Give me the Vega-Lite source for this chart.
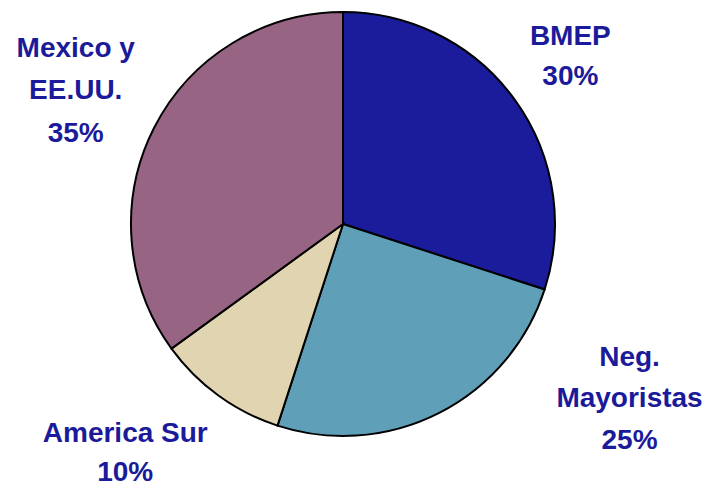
{
  "$schema": "https://vega.github.io/schema/vega-lite/v6.json",
  "width": 686,
  "height": 448,
  "autosize": "none",
  "padding": {"left": 0, "top": 0, "right": 32, "bottom": 38},
  "background": "white",
  "view": {"stroke": null},
  "data": {"values": [
    {"name": "BMEP", "value": 30, "order": 1, "label": ["BMEP", "30%"]},
    {"name": "Neg. Mayoristas", "value": 25, "order": 2, "label": ["Neg.", "Mayoristas", "25%"]},
    {"name": "America Sur", "value": 10, "order": 3, "label": ["America Sur", "10%"]},
    {"name": "Mexico y EE.UU.", "value": 35, "order": 4, "label": ["Mexico y", "EE.UU.", "35%"]}
  ]},
  "encoding": {
    "theta": {"field": "value", "type": "quantitative", "stack": true},
    "order": {"field": "order", "type": "quantitative"}
  },
  "layer": [
    {
      "mark": {"type": "arc", "outerRadius": 212, "stroke": "black", "strokeWidth": 2},
      "encoding": {
        "color": {"field": "name", "type": "nominal",
          "scale": {"domain": ["BMEP", "Neg. Mayoristas", "America Sur", "Mexico y EE.UU."],
                    "range": ["#1A1C9C", "#5FA0B8", "#E0D5B0", "#976484"]},
          "legend": null}
      }
    },
    {
      "mark": {"type": "text", "radius": 281, "dy": -22, "font": "Liberation Sans", "fontWeight": "bold", "fontSize": 28, "lineHeight": 40, "color": "#1A1A9A", "align": "center", "baseline": "middle"},
      "encoding": {"text": {"condition": {"test": "datum.name == 'BMEP'", "field": "label"}, "value": ""}}
    },
    {
      "mark": {"type": "text", "radius": 195, "dx": 198, "dy": -40, "font": "Liberation Sans", "fontWeight": "bold", "fontSize": 28, "lineHeight": 41.5, "color": "#1A1A9A", "align": "center", "baseline": "middle"},
      "encoding": {"text": {"condition": {"test": "datum.name == 'Neg. Mayoristas'", "field": "label"}, "value": ""}}
    },
    {
      "mark": {"type": "text", "radius": 282, "dx": -52, "dy": -18, "font": "Liberation Sans", "fontWeight": "bold", "fontSize": 28, "lineHeight": 39, "color": "#1A1A9A", "align": "center", "baseline": "middle"},
      "encoding": {"text": {"condition": {"test": "datum.name == 'America Sur'", "field": "label"}, "value": ""}}
    },
    {
      "mark": {"type": "text", "radius": 300, "dy": -39, "font": "Liberation Sans", "fontWeight": "bold", "fontSize": 28, "lineHeight": 42.5, "color": "#1A1A9A", "align": "center", "baseline": "middle"},
      "encoding": {"text": {"condition": {"test": "datum.name == 'Mexico y EE.UU.'", "field": "label"}, "value": ""}}
    }
  ]
}
